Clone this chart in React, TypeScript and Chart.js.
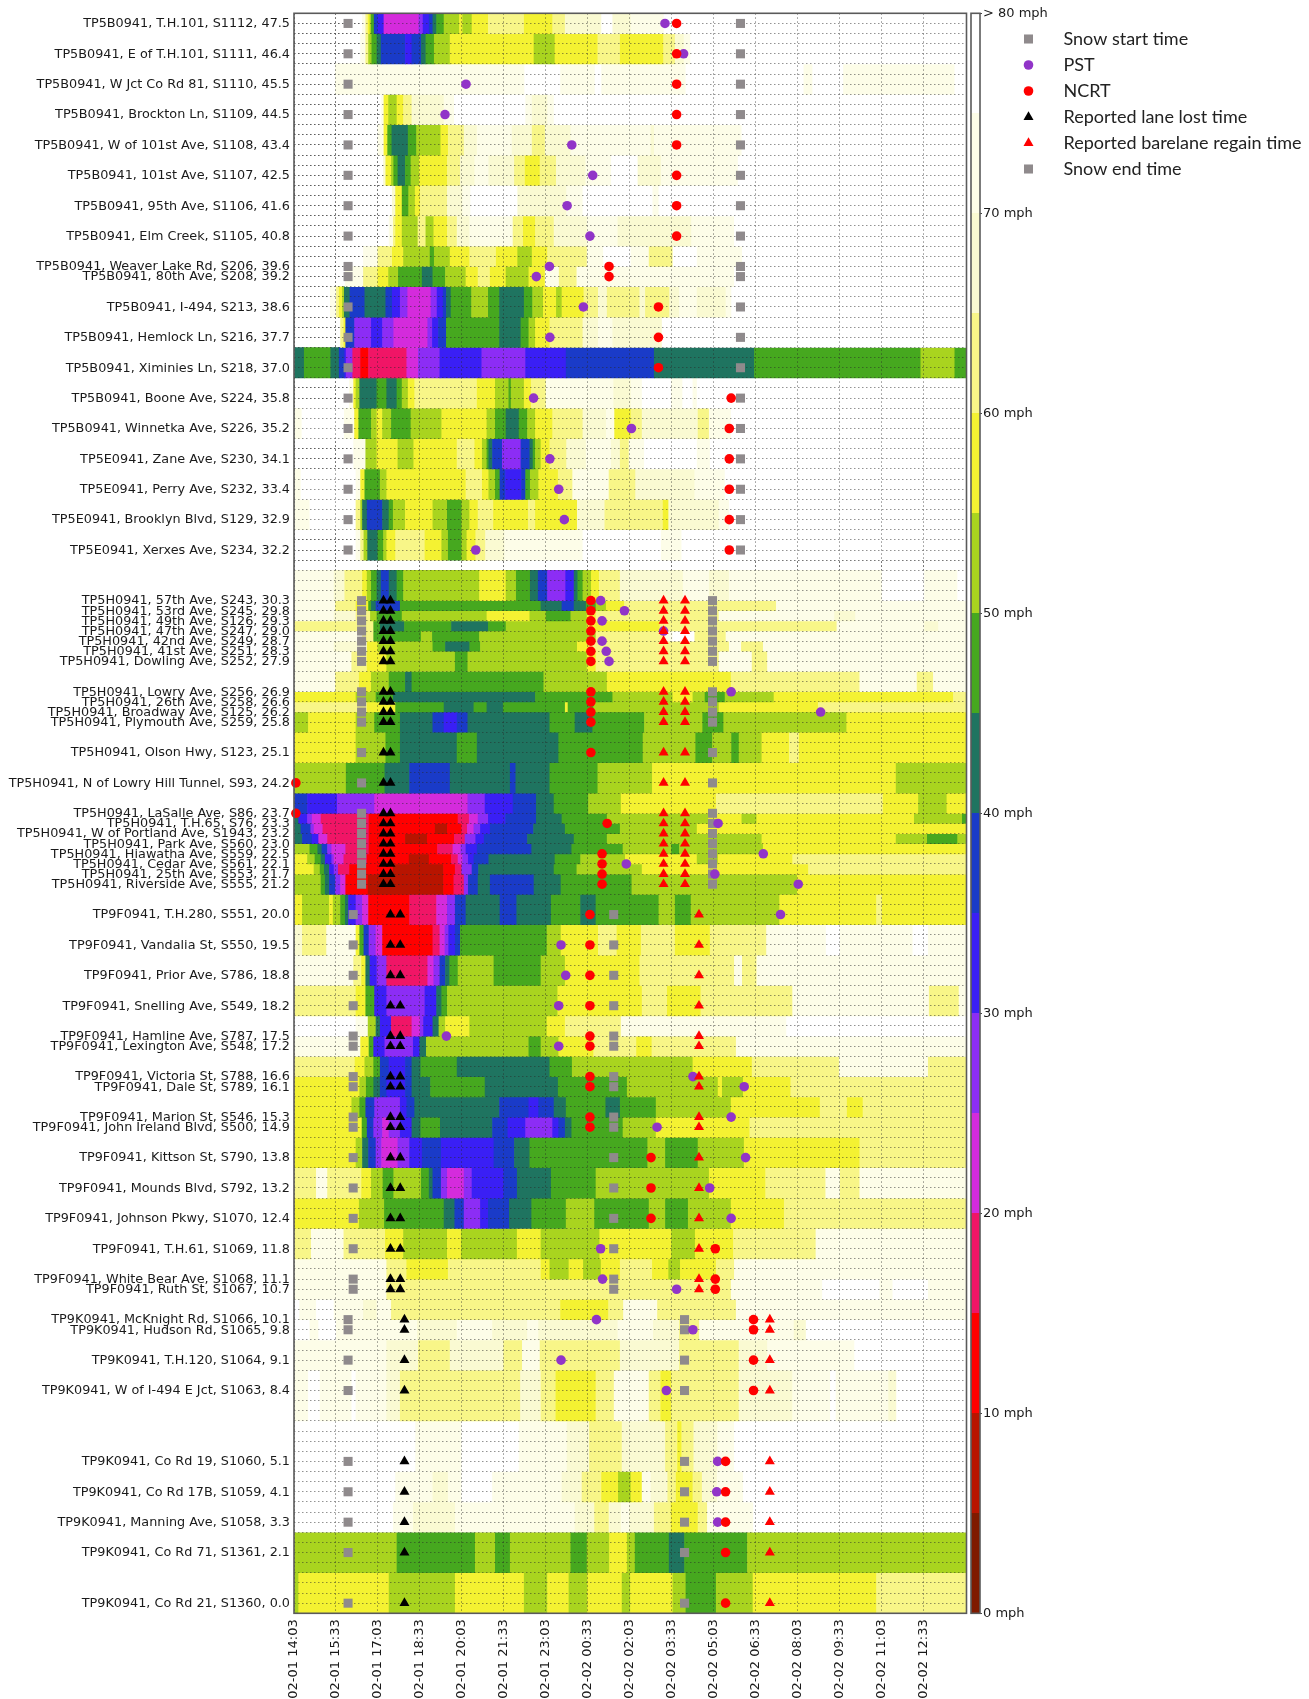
import React, { useEffect, useRef } from "react";
import { Chart, registerables } from "chart.js";
import { drawPoint } from "chart.js/helpers";

Chart.register(...registerables);

// ---- row labels: [row index from the top, text]
const rowLabels: [number, string][] = [
  [1, "TP5B0941, T.H.101, S1112, 47.5"], [4, "TP5B0941, E of T.H.101, S1111, 46.4"],
  [7, "TP5B0941, W Jct Co Rd 81, S1110, 45.5"], [10, "TP5B0941, Brockton Ln, S1109, 44.5"],
  [13, "TP5B0941, W of 101st Ave, S1108, 43.4"], [16, "TP5B0941, 101st Ave, S1107, 42.5"],
  [19, "TP5B0941, 95th Ave, S1106, 41.6"], [22, "TP5B0941, Elm Creek, S1105, 40.8"],
  [25, "TP5B0941, Weaver Lake Rd, S206, 39.6"], [26, "TP5B0941, 80th Ave, S208, 39.2"],
  [29, "TP5B0941, I-494, S213, 38.6"], [32, "TP5B0941, Hemlock Ln, S216, 37.7"],
  [35, "TP5B0941, Ximinies Ln, S218, 37.0"], [38, "TP5B0941, Boone Ave, S224, 35.8"],
  [41, "TP5B0941, Winnetka Ave, S226, 35.2"], [44, "TP5E0941, Zane Ave, S230, 34.1"],
  [47, "TP5E0941, Perry Ave, S232, 33.4"], [50, "TP5E0941, Brooklyn Blvd, S129, 32.9"],
  [53, "TP5E0941, Xerxes Ave, S234, 32.2"], [58, "TP5H0941, 57th Ave, S243, 30.3"],
  [59, "TP5H0941, 53rd Ave, S245, 29.8"], [60, "TP5H0941, 49th Ave, S126, 29.3"],
  [61, "TP5H0941, 47th Ave, S247, 29.0"], [62, "TP5H0941, 42nd Ave, S249, 28.7"],
  [63, "TP5H0941, 41st Ave, S251, 28.3"], [64, "TP5H0941, Dowling Ave, S252, 27.9"],
  [67, "TP5H0941, Lowry Ave, S256, 26.9"], [68, "TP5H0941, 26th Ave, S258, 26.6"],
  [69, "TP5H0941, Broadway Ave, S125, 26.2"], [70, "TP5H0941, Plymouth Ave, S259, 25.8"],
  [73, "TP5H0941, Olson Hwy, S123, 25.1"], [76, "TP5H0941, N of Lowry Hill Tunnel, S93, 24.2"],
  [79, "TP5H0941, LaSalle Ave, S86, 23.7"], [80, "TP5H0941, T.H.65, S76, 23.3"],
  [81, "TP5H0941, W of Portland Ave, S1943, 23.2"], [82, "TP5H0941, Park Ave, S560, 23.0"],
  [83, "TP5H0941, Hiawatha Ave, S559, 22.5"], [84, "TP5H0941, Cedar Ave, S561, 22.1"],
  [85, "TP5H0941, 25th Ave, S553, 21.7"], [86, "TP5H0941, Riverside Ave, S555, 21.2"],
  [89, "TP9F0941, T.H.280, S551, 20.0"], [92, "TP9F0941, Vandalia St, S550, 19.5"],
  [95, "TP9F0941, Prior Ave, S786, 18.8"], [98, "TP9F0941, Snelling Ave, S549, 18.2"],
  [101, "TP9F0941, Hamline Ave, S787, 17.5"], [102, "TP9F0941, Lexington Ave, S548, 17.2"],
  [105, "TP9F0941, Victoria St, S788, 16.6"], [106, "TP9F0941, Dale St, S789, 16.1"],
  [109, "TP9F0941, Marion St, S546, 15.3"], [110, "TP9F0941, John Ireland Blvd, S500, 14.9"],
  [113, "TP9F0941, Kittson St, S790, 13.8"], [116, "TP9F0941, Mounds Blvd, S792, 13.2"],
  [119, "TP9F0941, Johnson Pkwy, S1070, 12.4"], [122, "TP9F0941, T.H.61, S1069, 11.8"],
  [125, "TP9F0941, White Bear Ave, S1068, 11.1"], [126, "TP9F0941, Ruth St, S1067, 10.7"],
  [129, "TP9K0941, McKnight Rd, S1066, 10.1"], [130, "TP9K0941, Hudson Rd, S1065, 9.8"],
  [133, "TP9K0941, T.H.120, S1064, 9.1"], [136, "TP9K0941, W of I-494 E Jct, S1063, 8.4"],
  [143, "TP9K0941, Co Rd 19, S1060, 5.1"], [146, "TP9K0941, Co Rd 17B, S1059, 4.1"],
  [149, "TP9K0941, Manning Ave, S1058, 3.3"], [152, "TP9K0941, Co Rd 71, S1361, 2.1"],
  [157, "TP9K0941, Co Rd 21, S1360, 0.0"],
];

// ---- speed bands: [top row, bottom row, [start minute, speed mph, start minute, speed mph, ...]]
const speedBands: [number, number, number[]][] = [
  [0, 2, [147,72,154,62,159,57,163,52,166,47,172,37,180,32,193,22,268,27,277,32,290,37,298,42,306,47,322,52,355,57,362,52,382,57,417,62,494,57,555,62,582,67,660,78,684,67,723,72,794,78]],
  [2, 5, [143,72,154,62,160,52,167,47,178,42,187,37,239,32,253,37,273,42,283,47,301,52,335,57,515,52,560,57,652,62,700,57,793,62,818,67,837,72,851,78]],
  [5, 8, [89,72,495,78,572,72,646,78,660,72,841,78,1094,72,1113,78,1179,72,1418,78]],
  [8, 11, [188,72,193,57,203,52,221,57,235,62,253,67,322,72,344,78,497,72,511,67,544,72,558,78]],
  [11, 14, [180,72,193,57,201,47,210,42,245,47,263,52,315,57,331,62,365,67,393,72,468,67,511,62,539,67,594,72,766,67,773,72,961,78]],
  [14, 17, [192,67,197,57,209,52,214,47,223,42,239,47,251,52,269,57,329,62,357,67,388,72,418,67,473,62,496,57,528,62,563,67,626,72,681,78,738,67,788,72,953,78]],
  [17, 20, [211,67,218,57,232,47,246,52,260,57,271,62,329,67,362,72,379,78,480,67,585,72,620,78,770,72,783,78]],
  [20, 23, [204,72,213,62,218,57,232,52,266,62,283,52,300,57,329,62,350,67,377,72,470,62,492,57,518,62,558,67,629,72,695,67,853,72,945,78]],
  [23, 25, [149,72,180,62,211,57,235,52,292,47,301,52,335,57,377,62,434,57,480,52,511,57,544,62,629,72,664,78,723,72,762,62,813,78,865,72,962,78]],
  [25, 27, [110,72,149,62,180,57,203,52,224,47,275,42,298,47,325,52,369,57,395,62,421,57,455,52,504,57,539,72,569,62,607,72,945,78]],
  [27, 30, [78,72,91,62,97,57,104,52,108,42,120,37,152,42,197,37,211,32,228,27,244,22,294,27,307,32,320,37,327,42,337,47,381,52,417,47,441,42,494,47,512,52,535,57,563,52,575,57,622,62,653,67,672,62,742,67,754,62,806,67,827,72,865,67,927,72,939,78]],
  [30, 33, [100,62,107,57,111,37,130,27,166,32,190,27,214,22,287,27,297,32,310,37,327,47,441,42,487,47,504,52,518,57,549,62,620,67,653,72,684,67,790,78]],
  [33, 36, [0,42,22,47,79,42,97,37,109,32,112,27,126,17,143,12,160,17,242,22,267,27,313,32,403,27,497,32,584,37,773,42,988,47,1345,52,1418,47]],
  [36, 39, [119,72,128,57,133,52,141,42,178,47,199,42,221,47,232,52,245,57,259,62,393,57,432,52,461,47,466,52,494,57,509,62,541,72,686,67,723,72,747,78,810,72,834,78,856,72,865,78]],
  [39, 42, [0,72,17,78,108,72,130,57,139,47,166,52,178,57,190,52,209,47,251,52,317,57,414,52,432,47,455,42,483,47,501,52,518,57,555,62,620,67,670,72,688,57,723,62,747,67,867,62,891,72,938,78]],
  [42, 45, [128,72,154,52,178,57,223,52,257,57,350,62,388,57,404,52,414,47,418,42,426,37,447,27,487,37,506,42,513,47,518,52,530,57,549,62,585,67,627,72,681,67,700,62,719,72,752,78,865,72,893,78]],
  [45, 48, [0,72,15,78,133,72,143,57,152,47,185,52,199,57,369,62,404,57,418,52,432,47,442,37,454,32,488,37,497,47,507,52,525,57,567,62,598,72,676,62,733,67,860,72,925,78]],
  [48, 51, [0,72,34,78,133,62,143,52,147,42,157,37,190,42,204,47,213,52,239,57,298,52,329,47,360,52,377,57,395,62,428,57,503,62,518,57,608,67,667,62,792,57,804,67,912,72,934,78]],
  [51, 54, [133,72,143,62,150,52,158,42,180,47,192,52,199,57,218,62,281,57,317,52,331,47,360,52,371,57,390,62,411,67,452,72,620,78,788,72,832,78]],
  [55, 58, [0,72,86,67,109,62,147,57,157,52,166,47,178,42,187,37,204,42,221,47,235,52,398,57,455,52,477,47,507,42,524,37,544,27,583,32,601,42,609,47,620,52,638,57,655,62,700,67,835,72,891,67,934,72,1262,78,1353,72,1424,78]],
  [58, 59, [0,72,89,62,133,57,160,47,166,42,176,37,228,47,530,42,575,37,601,42,627,47,648,52,670,57,709,62,1035,72]],
  [59, 60, [0,72,86,67,133,62,164,52,178,47,232,52,414,57,506,52,541,47,594,52,629,57,648,62,912,72,1160,67,1205,72]],
  [60, 61, [0,62,171,47,185,42,237,47,338,42,417,47,455,52,629,57,785,62,1165,72,1353,67,1383,72]],
  [61, 62, [0,72,147,62,171,47,273,52,297,47,398,52,648,62,794,72,813,78,860,62,927,72]],
  [62, 63, [0,72,86,67,157,57,180,52,298,47,325,42,377,47,400,52,608,57,634,62,934,72,960,62,1007,72]],
  [63, 65, [0,72,124,62,157,57,199,52,346,47,373,52,629,57,648,62,912,72,983,62,1016,72]],
  [65, 67, [0,72,89,62,140,57,166,52,204,47,239,42,253,47,536,52,672,57,938,62,1214,72,1337,62,1372,72]],
  [67, 68, [0,57,133,52,176,47,213,42,518,47,684,52,813,57,856,52,882,47,925,52,1030,57,1415,62]],
  [68, 69, [0,62,157,57,218,47,322,42,386,47,414,42,449,47,582,57,588,47,643,52,912,57,1125,62]],
  [69, 71, [0,52,31,57,133,52,173,47,228,42,298,37,322,32,350,37,373,42,549,47,603,42,641,47,752,52,877,47,922,52,1186,57]],
  [71, 74, [0,57,133,52,197,47,228,42,350,47,393,42,568,47,749,52,862,47,898,52,939,47,955,52,1004,57,1063,62,1084,57]],
  [74, 77, [0,52,112,47,195,42,248,37,335,42,464,37,476,42,549,47,652,52,769,57,1292,52]],
  [77, 79, [0,37,29,32,93,27,173,22,373,27,410,32,470,37,520,42,558,47,632,52,702,57,906,62,1264,57,1340,52,1401,57]],
  [79, 80, [0,42,10,32,29,27,39,22,58,17,161,12,352,17,376,22,395,27,417,32,454,37,520,42,575,47,672,52,889,57,961,52,993,57,1331,52,1434,47]],
  [80, 81, [0,42,15,37,36,27,43,22,62,17,161,12,303,7,329,12,360,17,372,22,386,27,400,32,421,37,514,42,582,47,700,52,865,57]],
  [81, 82, [0,42,18,37,39,32,53,22,72,17,161,12,239,7,286,12,344,17,367,27,390,32,408,37,501,42,601,47,672,52,1004,57,1292,52,1359,47,1424,52]],
  [82, 83, [0,52,34,47,51,42,60,37,72,27,81,22,111,17,161,12,308,17,341,22,358,27,369,32,393,37,510,42,596,47,706,52,810,47,827,52,1007,57]],
  [83, 84, [0,57,29,52,45,47,58,42,67,32,81,27,86,22,107,17,157,12,247,7,290,12,338,17,352,22,362,27,374,32,386,37,418,42,560,47,615,52,711,57,865,52,910,57,1070,62]],
  [84, 85, [0,57,43,52,56,47,65,42,76,32,86,27,95,17,119,12,213,7,321,12,346,17,360,27,382,37,396,42,558,47,607,52,747,57,1104,62]],
  [85, 87, [0,52,58,47,67,42,76,37,89,27,100,22,111,12,159,7,321,12,343,17,365,27,374,37,395,42,421,37,515,42,573,47,725,52,1080,57]],
  [87, 90, [0,57,18,52,76,57,84,52,100,47,110,42,117,32,133,27,147,22,160,12,248,17,306,22,329,27,346,37,369,42,442,37,478,42,552,47,615,42,648,47,783,52,818,47,852,52,1042,57,1250,62,1262,57]],
  [90, 93, [0,67,18,62,70,72,133,57,141,47,150,37,161,27,176,22,190,12,298,17,313,22,324,27,332,32,346,37,357,47,543,52,573,57,653,62,693,57,745,62,818,57,893,62,1014,72,1142,78,1172,72,1328,78,1361,72]],
  [93, 96, [0,72,128,62,145,57,154,42,163,32,178,27,199,17,287,22,300,27,313,37,325,42,334,47,352,52,429,47,530,52,582,57,742,62,945,72,962,62,993,72]],
  [96, 99, [0,62,133,57,154,47,173,32,199,27,281,32,306,42,317,47,329,52,566,57,747,62,801,57,873,62,1070,72,1363,62,1427,72]],
  [99, 101, [0,78,133,72,159,52,176,42,185,32,209,17,253,22,271,27,278,32,298,42,311,52,325,57,377,52,543,57,582,62,702,72,1057,78]],
  [101, 103, [0,72,143,57,161,47,171,32,195,27,256,32,270,42,284,52,504,47,530,52,568,57,643,62,735,57,768,62,949,72]],
  [103, 105, [0,62,131,57,152,52,171,47,185,37,204,32,239,37,253,42,272,47,350,42,549,47,597,52,856,57,983,62,1170,72,1361,62]],
  [105, 107, [0,57,141,52,155,47,171,42,185,37,199,32,239,37,253,42,293,47,410,42,567,47,715,52,910,57,919,52,964,57,1066,62]],
  [107, 109, [0,57,124,52,141,47,154,37,173,27,228,32,242,37,259,42,441,37,504,32,525,37,558,42,584,47,669,42,700,47,777,52,938,57,1129,62,1187,57,1221,62]],
  [109, 111, [0,57,146,47,157,37,171,27,190,22,204,27,228,32,253,42,272,47,314,42,426,37,459,32,497,27,555,32,568,37,582,42,596,47,706,52,777,57,978,62]],
  [111, 114, [0,57,133,52,147,42,160,37,176,27,188,22,223,27,248,32,275,37,316,32,429,37,473,42,506,47,759,52,797,47,867,52,966,57,1214,62]],
  [114, 117, [0,62,48,72,72,62,145,57,166,52,191,47,214,52,273,47,290,42,298,37,316,27,329,22,365,27,382,32,450,37,479,42,552,47,648,52,891,57,1012,62,1141,72,1172,62,1214,72]],
  [117, 120, [0,57,140,52,194,47,322,42,345,37,365,27,400,32,417,37,462,42,510,47,584,52,645,47,762,52,797,47,846,52,938,57,1052,62]],
  [120, 123, [0,62,37,72,107,62,196,57,235,52,329,57,359,52,479,57,530,52,656,57,810,52,861,57,943,62,1120,72]],
  [123, 125, [0,72,199,62,242,57,331,62,530,57,549,52,590,57,621,52,659,57,700,62,769,57,804,52,829,57,906,62,945,72]],
  [125, 127, [0,72,199,62,938,72,1134,78,1257,72,1285,78,1361,72]],
  [127, 129, [0,78,12,72,48,78,86,72,149,67,178,72,209,62,572,57,675,62,707,72,780,62,949,72]],
  [129, 131, [0,78,34,72,53,78,91,72,265,67,350,72,426,67,501,72,525,67,695,72,771,67,827,62,870,72,1073,67,1099,78]],
  [131, 134, [0,72,199,67,267,62,335,67,450,62,490,72,528,62,700,67,827,62,955,67,1016,72,1203,78]],
  [134, 139, [0,72,31,78,56,72,124,78,133,72,199,67,228,62,486,67,530,62,562,57,648,62,687,72,762,62,787,57,810,62,955,67,1070,72,1151,78,1163,72,1276,67,1293,78]],
  [139, 144, [0,78,261,72,360,78,483,72,586,67,634,62,704,67,797,62,823,57,832,62,858,67,909,72,945,78]],
  [144, 147, [0,78,218,72,298,67,331,72,360,78,426,72,575,67,618,62,660,57,696,52,723,57,747,72,766,67,802,62,820,57,856,62,876,67,908,72,964,78]],
  [147, 150, [0,78,213,72,256,67,346,72,603,67,645,62,676,67,702,72,720,67,773,62,809,57,867,62,887,72,986,78]],
  [150, 154, [0,52,221,47,389,52,432,47,464,52,594,47,629,52,677,57,715,52,732,47,805,42,838,47,973,52]],
  [154, 158, [0,52,10,57,204,52,346,57,494,52,544,57,590,52,630,57,704,52,722,57,813,52,841,47,906,52,985,57,1250,62]],
];

// ---- event markers: [minute, rows...]
const snowStartTimes: number[][] = [
  [116, 1,4,7,10,13,16,19,22,25,26,29,32,35,38,41,44,47,50,53],
  [145, 58,59,60,61,62,63,64,67,68,69,70,73,76,79,80,81,82,83,84,85,86],
  [127, 89,92,95,98,101,102,105,106,109,110,113,116,119,122,125,126],
  [116, 129,130,133,136,143,146,149,152,157],
];
const snowEndTimes: number[][] = [
  [958, 1,4,7,10,13,16,19,22,25,26,29,32,35,38,41,44,47,50,53],
  [898, 58,59,60,61,62,63,64,67,68,69,70,73,76,79,80,81,82,83,84,85,86],
  [686, 89,92,95,98,101,102,105,106,109,110,113,116,119,122,125,126],
  [838, 129,130,133,136,143,146,149,152,157],
];
const pstTimes: number[][] = [
  [796,1],[836,4],[369,7],[324,10],[596,13],[641,16],[586,19],[635,22],[548,25],[520,26],[621,29],[549,32],
  [514,38],[724,41],[549,44],[568,47],[580,50],[390,53],[658,58],[709,59],[661,60],[793,61],[661,62],[670,63],[676,64],
  [938,67],[1130,69],[910,80],[1007,83],[713,84],[903,85],[1082,86],[1044,89],[573,92],[583,95],[568,98],[327,101],[568,102],
  [856,105],[966,106],[938,109],[779,110],[969,113],[892,116],[938,119],[658,122],[662,125],[821,126],[649,129],[856,130],
  [573,133],[799,136],[909,143],[907,146],[909,149],
];
const ncrtTimes: number[][] = [
  [821, 1,4,7,10,13,16,19,22],
  [676, 25,26],
  [782, 29,32,35],
  [938, 38],
  [934, 41,44,47,50,53],
  [637, 58,59,60,61,62,63,64,67,68,69,70,73],
  [4, 76,79],
  [672, 80],
  [661, 83,84,85,86],
  [635, 89,92,95,98,101,102,105,106,109,110],
  [766, 113,116,119],
  [904, 122,125,126],
  [986, 129,130,133,136],
  [926, 143,146,149,152,157],
];
const laneLostTimes: number[][] = [
  [192, 58,59,60,61,62,63,64,67,68,69,70,73,76,79,80,81,82,83,84,85,86],
  [207, 58,59,60,61,62,63,64,67,68,69,70,73,76,79,80,81,82,83,84,85,86],
  [207, 89,92,95,98,101,102,105,106,109,110,113,116,119,122,125,126],
  [228, 89,92,95,98,101,102,105,106,109,110,113,116,119,122,125,126],
  [237, 129,130,133,136,143,146,149,152,157],
];
const barelaneTimes: number[][] = [
  [793, 58,59,60,61,62,63,64,67,68,69,70,73,76,79,80,81,82,83,84,85,86],
  [839, 58,59,60,61,62,63,64,67,68,69,70,73,76,79,80,81,82,83,84,85,86],
  [869, 89,92,95,98,101,102,105,106,109,110,113,116,119,122,125,126],
  [1021, 129,130,133,136,143,146,149,152,157],
];

// ---- colour bins, 5 mph each, from 0 mph up
const speedBinColors = [
  "#7f1a00", "#b81400", "#ff0000", "#f01566", "#d42bdc", "#8c2df5", "#3a1ff5", "#1a3bc8",
  "#1f7460", "#46a81f", "#a9d41f", "#f4f232", "#f8f688", "#fafad2", "#fdfde8", "#ffffff",
];
const colorBarTicks = [0, 10, 20, 30, 40, 50, 60, 70, 80];
const timeTicks = [0, 90, 180, 270, 360, 450, 540, 630, 720, 810, 900, 990, 1080, 1170, 1260, 1350];
const axisMinutes = 1443;
const rowCount = 158;

const FONT = "'DejaVu Sans'";
const PLOT = { left: 294, right: 966.5, top: 13.3, bottom: 1613.3 };
const rowPx = (PLOT.bottom - PLOT.top) / rowCount;

const colorOf = (speed: number) => speedBinColors[Math.min(15, Math.floor(speed / 5))];

const points = (groups: number[][]) =>
  groups.flatMap(([minute, ...rows]) => rows.map((y) => ({ x: minute, y })));

const timeLabel = (minute: number) => {
  const total = 14 * 60 + 3 + minute;
  const day = total >= 1440 ? "02-02" : "02-01";
  const t = total % 1440;
  const hh = String(Math.floor(t / 60)).padStart(2, "0");
  const mm = String(t % 60).padStart(2, "0");
  return `${day} ${hh}:${mm}`;
};

const markerSpecs = [
  { label: "Snow start time", data: snowStartTimes, pointStyle: "rect", color: "#8f8a8c", radius: 6.4, order: 5 },
  { label: "PST", data: pstTimes, pointStyle: "circle", color: "#9134c8", radius: 4.8, order: 4 },
  { label: "NCRT", data: ncrtTimes, pointStyle: "circle", color: "#ff0000", radius: 4.8, order: 3 },
  { label: "Reported lane lost time", data: laneLostTimes, pointStyle: "triangle", color: "#000000", radius: 5.8, order: 2 },
  { label: "Reported barelane regain time", data: barelaneTimes, pointStyle: "triangle", color: "#ff0000", radius: 5.8, order: 1 },
  { label: "Snow end time", data: snowEndTimes, pointStyle: "rect", color: "#8f8a8c", radius: 6.4, order: 6 },
];

const framePlugin = {
  id: "frame",
  afterDraw(chart: any) {
    const { ctx, chartArea: a } = chart;
    ctx.save();
    ctx.strokeStyle = "#5a5a5a";
    ctx.lineWidth = 1.6;
    ctx.strokeRect(a.left, a.top, a.right - a.left, a.bottom - a.top);
    ctx.restore();
  },
};

// the grid lies over the speed cells and under the event markers
const gridOverCells = {
  id: "gridOverCells",
  beforeDatasetDraw(chart: any, args: any) {
    if (args.meta.type === "scatter" && chart.data.datasets[args.index].order === 6) {
      chart.scales.x.drawGrid(chart.chartArea);
      chart.scales.y.drawGrid(chart.chartArea);
    }
  },
};

const markerLegend = {
  id: "markerLegend",
  afterDraw(chart: any) {
    const { ctx } = chart;
    ctx.save();
    ctx.textBaseline = "middle";
    ctx.font = "18px Lato";
    ctx.fillStyle = "#222222";
    markerSpecs.forEach((m, i) => {
      const y = 39 + i * 26;
      ctx.fillStyle = m.color;
      ctx.strokeStyle = m.color;
      drawPoint(ctx, { pointStyle: m.pointStyle as any, rotation: 0, radius: m.radius, borderWidth: 0 }, 1028.5, y);
      ctx.fillStyle = "#222222";
      ctx.fillText(m.label, 1063.5, y);
    });
    ctx.restore();
  },
};

export default function App() {
  const mainRef = useRef<HTMLCanvasElement>(null);
  const barRef = useRef<HTMLCanvasElement>(null);

  useEffect(() => {
    const labelByRow = new Map(rowLabels);
    const cellDatasets = speedBands.map(([top, bottom, flat]) => {
      const data: any[] = [];
      const colors: string[] = [];
      for (let i = 0; i < flat.length; i += 2) {
        const end = i + 2 < flat.length ? flat[i + 2] : axisMinutes;
        data.push({ x: [flat[i], end], y: (top + bottom) / 2 });
        colors.push(colorOf(flat[i + 1]));
      }
      return {
        type: "bar",
        indexAxis: "y",
        grouped: false,
        order: 10,
        data,
        backgroundColor: colors,
        barThickness: (bottom - top) * rowPx,
        borderWidth: 0,
      };
    });
    const markerDatasets = markerSpecs.map((m) => ({
      type: "scatter",
      label: m.label,
      order: m.order,
      data: points(m.data),
      pointStyle: m.pointStyle,
      backgroundColor: m.color,
      borderColor: m.color,
      pointRadius: m.radius,
      pointBorderWidth: 0,
      clip: false,
    }));

    const main = new Chart(mainRef.current!, {
      type: "scatter",
      data: { datasets: [...cellDatasets, ...markerDatasets] as any },
      plugins: [framePlugin, gridOverCells, markerLegend],
      options: {
        animation: false,
        responsive: false,
        layout: { padding: { top: PLOT.top, right: 1309 - PLOT.right, left: 0, bottom: 0 } },
        plugins: { legend: { display: false }, tooltip: { enabled: false } },
        scales: {
          x: {
            type: "linear",
            offset: false,
            min: 0,
            max: axisMinutes,
            afterFit: (s: any) => { s.height = 1699 - PLOT.bottom; },
            afterBuildTicks: (s: any) => { s.ticks = timeTicks.map((value) => ({ value })); },
            grid: { offset: false, color: "rgba(40,40,40,0.5)", lineWidth: 1, drawTicks: false },
            border: { display: false, dash: [1.5, 2.5] },
            ticks: {
              autoSkip: false,
              minRotation: 90,
              maxRotation: 90,
              padding: 6,
              color: "#1a1a1a",
              font: { family: FONT, size: 13 },
              callback: (v: any) => timeLabel(Number(v)),
            },
          },
          y: {
            type: "linear",
            offset: false,
            reverse: true,
            min: 0,
            max: rowCount,
            afterFit: (s: any) => { s.width = PLOT.left; },
            grid: { offset: false, color: "rgba(40,40,40,0.5)", lineWidth: 1, drawTicks: false },
            border: { display: false, dash: [1.5, 2.5] },
            ticks: {
              stepSize: 1,
              autoSkip: false,
              padding: 4,
              labelOffset: 0.5,
              color: "#1a1a1a",
              font: { family: FONT, size: 12.8 },
              callback: (v: any) => labelByRow.get(Number(v)) ?? "",
            },
          },
        },
      } as any,
    });

    const colorBar = new Chart(barRef.current!, {
      type: "bar",
      data: {
        labels: [""],
        datasets: speedBinColors.map((c) => ({ data: [5], backgroundColor: c, borderWidth: 0, barPercentage: 1, categoryPercentage: 1 })),
      },
      plugins: [framePlugin],
      options: {
        animation: false,
        responsive: false,
        layout: { padding: { top: PLOT.top, bottom: 1699 - PLOT.bottom, left: 1, right: 0 } },
        plugins: { legend: { display: false }, tooltip: { enabled: false } },
        scales: {
          x: { stacked: true, display: false },
          y: {
            stacked: true,
            position: "right",
            min: 0,
            max: 80,
            afterFit: (s: any) => { s.width = 90; },
            grid: { drawOnChartArea: false, drawTicks: true, tickLength: 2, color: "#444" },
            border: { display: false },
            afterBuildTicks: (s: any) => { s.ticks = colorBarTicks.map((value) => ({ value })); },
            ticks: {
              padding: 1,
              color: "#1a1a1a",
              font: { family: FONT, size: 13 },
              callback: (v: any) => (Number(v) === 80 ? "> 80 mph" : `${v} mph`),
            },
          },
        },
      } as any,
    });

    return () => {
      main.destroy();
      colorBar.destroy();
    };
  }, []);

  return (
    <>
      <canvas ref={mainRef} width={1309} height={1699} style={{ position: "absolute", left: 0, top: 0 }} />
      <canvas ref={barRef} width={100} height={1699} style={{ position: "absolute", left: 970, top: 0 }} />
    </>
  );
}
